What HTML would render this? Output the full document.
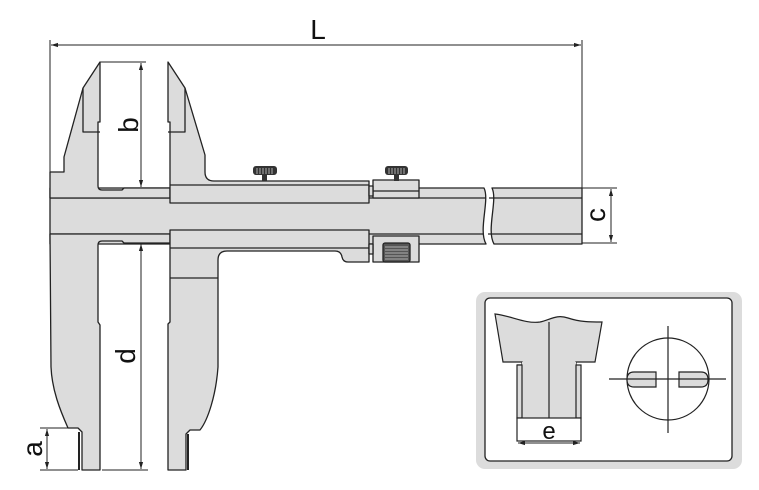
<!DOCTYPE html>
<html><head><style>html,body{margin:0;padding:0;background:#fff;width:759px;height:490px;overflow:hidden}</style></head>
<body>
<svg width="759" height="490" viewBox="0 0 759 490" xmlns="http://www.w3.org/2000/svg" font-family="Liberation Sans, sans-serif">
<defs>
<marker id="ar" viewBox="0 0 10 10" refX="10" refY="5" markerWidth="7" markerHeight="7" orient="auto-start-reverse"><path d="M0,2 L10,5 L0,8 Z" fill="#222"/></marker>
</defs>
<g stroke="#222" stroke-width="1.3" fill="#dcdcdc" stroke-linejoin="round">
<!-- beam left -->
<path d="M50,188 L484,188 C490,200 478,230 486,244 L50,244 Z"/>
<line x1="50" y1="198" x2="486" y2="198"/>
<line x1="50" y1="234" x2="484" y2="234"/>
<!-- beam right -->
<path d="M492,188 L582,188 L582,244 L494,244 C486,230 498,200 492,188 Z"/>
<line x1="489" y1="198" x2="582" y2="198"/>
<line x1="488" y1="234" x2="582" y2="234"/>
<!-- fixed jaw upper -->
<path d="M50,172 L64,172 L64,157 L83,88 L100,62 L100,122 L98,122 L98,186 Q98,190 102,190 L122,190 L124,188 L170,188 L170,198 L50,198 Z"/>
<path d="M83,88 L83,132 L100,132" fill="none"/>
<!-- fixed jaw lower -->
<path d="M50,234 L170,234 L170,243 L124,243 L122,241 L102,241 Q98,241 98,245 L98,322 L100,325 L100,470 L82,470 L82,432 L78,428 L68,428 C60,410 52,390 51,367 Z"/>
<line x1="79" y1="432" x2="79" y2="470" stroke-width="2"/>
<!-- moving jaw upper -->
<path d="M168,62 L185,88 L205,155 L205,172 Q205,181 214,181 L369,181 L369,203 L170,203 L170,122 L168,122 Z"/>
<path d="M185,88 L185,132 L168,132" fill="none"/>
<line x1="170" y1="185" x2="369" y2="185"/>
<!-- moving jaw lower -->
<path d="M170,230 L369,230 L369,262 L348,262 Q343,262 342,257 Q341,251 335,251 L227,251 Q218,251 218,260 L218,367 C216,395 208,420 200,430 L190,430 L186,434 L186,470 L168,470 L168,324 L170,322 Z"/>
<line x1="170" y1="248" x2="369" y2="248"/>
<line x1="170" y1="278" x2="218" y2="278"/>
<line x1="188" y1="434" x2="188" y2="470" stroke-width="2"/>
<!-- clamp blocks -->
<rect x="373" y="180" width="46" height="18"/>
<line x1="373" y1="191" x2="419" y2="191"/>
<rect x="369" y="186" width="4" height="10"/>
<rect x="373" y="236" width="46" height="26"/>
<rect x="369" y="244" width="4" height="10"/>
<rect x="383" y="243" width="27" height="19" rx="2" fill="#555"/>
</g>
<!-- knurls -->
<g fill="#333">
<rect x="253" y="166" width="24" height="9" rx="3"/>
<rect x="262" y="175" width="5" height="6"/>
<rect x="385" y="166" width="23" height="9" rx="3"/>
<rect x="394" y="175" width="5" height="6"/>
</g>
<g stroke="#ccc" stroke-width="0.8">
<path d="M257,168v6M260,168v6M263,168v6M266,168v6M269,168v6M272,168v6M389,168v6M392,168v6M395,168v6M398,168v6M401,168v6M404,168v6"/>
<path d="M385,247h23M385,250h23M385,253h23M385,256h23M385,259h23"/>
</g>
<!-- dimensions -->
<g stroke="#222" stroke-width="1" fill="none">
<line x1="50" y1="40" x2="50" y2="172"/>
<line x1="582" y1="40" x2="582" y2="188"/>
<line x1="51" y1="45" x2="581" y2="45" marker-start="url(#ar)" marker-end="url(#ar)"/>
<line x1="100" y1="62" x2="146" y2="62"/>
<line x1="141" y1="63" x2="141" y2="187" marker-start="url(#ar)" marker-end="url(#ar)"/>
<line x1="141" y1="244" x2="141" y2="469" marker-start="url(#ar)" marker-end="url(#ar)"/>
<line x1="102" y1="470" x2="148" y2="470"/>
<line x1="40" y1="428" x2="68" y2="428"/>
<line x1="40" y1="470" x2="78" y2="470"/>
<line x1="47" y1="429" x2="47" y2="469" marker-start="url(#ar)" marker-end="url(#ar)"/>
<line x1="582" y1="188" x2="617" y2="188"/>
<line x1="582" y1="243" x2="617" y2="243"/>
<line x1="611" y1="189" x2="611" y2="242" marker-start="url(#ar)" marker-end="url(#ar)"/>
</g>
<g fill="#111" font-size="28">
<text x="318" y="39" text-anchor="middle">L</text>
<text transform="translate(138,125) rotate(-90)" text-anchor="middle">b</text>
<text transform="translate(135,356) rotate(-90)" text-anchor="middle">d</text>
<text transform="translate(42,449) rotate(-90)" text-anchor="middle">a</text>
<text transform="translate(605,215) rotate(-90)" text-anchor="middle">c</text>
</g>
<!-- inset -->
<rect x="476" y="292" width="266" height="177" rx="9" fill="#dcdcdc"/>
<rect x="485" y="298" width="247" height="163" rx="5" fill="#fff" stroke="#222" stroke-width="1.3"/>
<g stroke="#222" stroke-width="1.2" fill="#dcdcdc">
<path d="M495,314 C512,316 525,324 540,322 C550,320 556,314 568,318 C580,322 590,322 602,322 L595,362 L576,362 L576,365 L517,365 L522,365 L522,362 L503,362 Z"/>
<rect x="522" y="362" width="54" height="56" stroke="none"/>
<rect x="517" y="365" width="5" height="53"/>
<rect x="576" y="365" width="5" height="53"/>
<line x1="549" y1="322" x2="549" y2="418"/>
<rect x="517" y="418" width="64" height="23" fill="#fff"/>
</g>
<line x1="518" y1="443" x2="580" y2="443" stroke="#222" stroke-width="1" marker-start="url(#ar)" marker-end="url(#ar)"/>
<text x="549" y="439" font-size="24" text-anchor="middle" fill="#111">e</text>
<circle cx="668" cy="379" r="41" fill="#fff" stroke="#222" stroke-width="1.2"/>
<g stroke="#222" stroke-width="1.2" fill="#dcdcdc">
<path d="M656,372 L634,372 Q627,372 627,379.5 Q627,387 634,387 L656,387 Z"/>
<path d="M679,372 L701,372 Q708,372 708,379.5 Q708,387 701,387 L679,387 Z"/>
<line x1="668" y1="326" x2="668" y2="433"/>
<line x1="609" y1="379" x2="726" y2="379"/>
</g>
</svg>
</body></html>
